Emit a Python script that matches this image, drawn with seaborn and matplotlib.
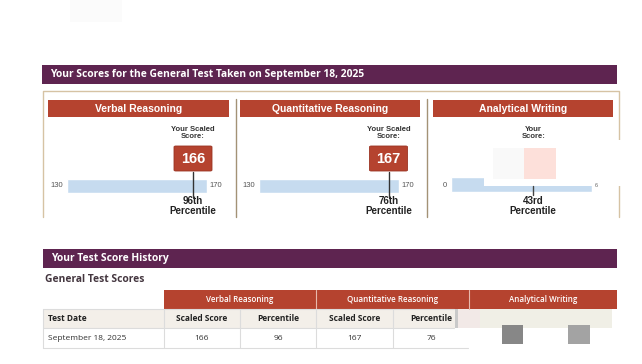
import numpy as np
import pandas as pd
import matplotlib
matplotlib.use("Agg")
import matplotlib.pyplot as plt
from matplotlib.patches import Rectangle, FancyBboxPatch
import seaborn as sns

# --- data ---
sections = ["Verbal Reasoning", "Quantitative Reasoning", "Analytical Writing"]
scale_lo = [130, 130, 0]
scale_hi = [170, 170, 6]
scores = [166, 167, 3.5]          # writing score is hidden in the report
score_text = ["166", "167", None]
percentiles = ["96th", "76th", "43rd"]
score_captions = ["Your Scaled\nScore:", "Your Scaled\nScore:", "Your\nScore:"]
test_date = "September 18, 2025"
table_groups = ["Verbal Reasoning", "Quantitative Reasoning", "Analytical Writing"]
table_cols = ["Scaled Score", "Percentile", "Scaled Score", "Percentile"]
table_vals = ["166", "96", "167", "76"]

PURPLE = "#5e2450"
RED = "#b5432f"
BLUE = "#c6dbef"
TAN = "#d6c3a4"
SEP = "#a39276"
W, H = 642, 364

sns.set_theme(style="white")
plt.rcParams["font.family"] = ["Liberation Sans", "DejaVu Sans"]

fig = plt.figure(figsize=(W / 100, H / 100), dpi=100)
base = fig.add_axes([0, 0, 1, 1])
base.set_xlim(0, W)
base.set_ylim(H, 0)
base.axis("off")


def rect(x0, y0, x1, y1, color, **kw):
    base.add_patch(Rectangle((x0, y0), x1 - x0, y1 - y0, facecolor=color,
                             edgecolor=kw.pop("ec", "none"), lw=kw.pop("lw", 0), **kw))


# faint box at the very top
rect(70, 0, 122, 22, "#fbfbfb")

# ---- score section ----
rect(42, 65, 617, 84, PURPLE)
base.text(50, 75, "Your Scores for the General Test Taken on September 18, 2025",
          color="white", fontsize=7.4, fontweight="bold", va="center",
          family=["Open Sans", "DejaVu Sans"])
base.plot([43, 43, 619, 619], [217, 91, 91, 217], color=TAN, lw=1)
for xs in [236, 427]:
    base.plot([xs, xs], [99, 217], color=SEP, lw=1)

panel_x = [(48, 229), (240, 420), (433, 613)]
bar_x = [(67, 207), (259, 399), (451, 592)]
for i, name in enumerate(sections):
    x0, x1 = panel_x[i]
    rect(x0, 100, x1, 117, RED)
    base.text((x0 + x1) / 2, 108.5, name, color="white", fontsize=7.5,
              fontweight="bold", ha="center", va="center")

for i in range(3):
    bx0, bx1 = bar_x[i]
    lo, hi = scale_lo[i], scale_hi[i]
    ax = fig.add_axes([bx0 / W, 1 - 216 / H, (bx1 - bx0) / W, (216 - 120) / H])
    bar_top = 177 if i == 2 else 179
    bar_bot = 192 if i == 2 else 193
    sns.barplot(x=[hi - lo], y=[(bar_top + bar_bot) / 2], orient="h", native_scale=True,
                left=lo, width=bar_bot - bar_top, color=BLUE, saturation=1, ax=ax)
    ax.set_xlim(lo, hi)
    ax.set_ylim(216, 120)
    ax.axis("off")
    ppu = (bx1 - bx0) / (hi - lo)   # pixels per score point
    s = scores[i]
    ax.annotate(str(lo), xy=(lo, 186), xytext=(-3, 0), textcoords="offset points",
                ha="right", va="center", fontsize=5.5, color="#555555", annotation_clip=False)
    if i == 2:
        # redacted area over the writing panel
        ax.add_patch(Rectangle((lo + 33 / ppu, 140), (hi - lo), 186 - 140, facecolor="white",
                               edgecolor="none", clip_on=False, zorder=3))
        ax.add_patch(Rectangle((s - 40 / ppu, 148), 31 / ppu, 31, facecolor="#f9f9f9",
                               edgecolor="none", clip_on=False, zorder=4))
        ax.add_patch(Rectangle((s - 9 / ppu, 148), 32 / ppu, 31, facecolor="#fde0da",
                               edgecolor="none", clip_on=False, zorder=4))
        ax.annotate("6", xy=(hi, 186), xytext=(2, 0), textcoords="offset points",
                    ha="left", va="center", fontsize=4, color="#666666", annotation_clip=False)
        ax.plot([s, s], [186, 195], color="#444444", lw=1, clip_on=False, zorder=5)
    else:
        ax.annotate(str(hi), xy=(hi, 186), xytext=(1.5, 0), textcoords="offset points",
                    ha="left", va="center", fontsize=5.5, color="#555555", annotation_clip=False)
        ax.plot([s, s], [172, 197], color="#333333", lw=1, clip_on=False, zorder=5)
        ax.add_patch(FancyBboxPatch((s - 19 / ppu, 146), 38 / ppu, 25,
                                    boxstyle="round,pad=0,rounding_size=0.5",
                                    mutation_aspect=2,
                                    facecolor=RED, edgecolor="#9a3322", lw=0.6,
                                    clip_on=False, zorder=6))
        ax.text(s, 159, score_text[i], color="white", fontsize=10.5, fontweight="bold",
                ha="center", va="center", zorder=7)
    ax.text(s, 133, score_captions[i], fontsize=5.5, fontweight="bold", color="#333333",
            ha="center", va="center", linespacing=1.0, zorder=7)
    ax.text(s, 206, percentiles[i] + "\nPercentile", fontsize=7, fontweight="bold",
            color="#222222", ha="center", va="center", linespacing=0.95, zorder=7)

# white gap on the right border
rect(605, 140, 626, 187, "white")

# ---- score history table ----
TF = ["Open Sans", "DejaVu Sans"]
rect(43, 249, 617, 268, PURPLE)
base.text(51, 258.5, "Your Test Score History", color="white", fontsize=7.4,
          fontweight="bold", va="center", family=TF)
base.text(45, 280, "General Test Scores", color="#44363f", fontsize=7.4,
          fontweight="bold", va="center", family=TF)

group_x = [(164, 316), (316, 469), (469, 617)]
for (x0, x1), g in zip(group_x, table_groups):
    rect(x0, 290, x1, 309, RED)
    base.text((x0 + x1) / 2, 299.5, g, color="white", fontsize=5.8, ha="center",
              va="center", family=TF, fontweight="semibold")
for xs in [316, 469]:
    base.plot([xs, xs], [290, 309], color="#e8b9ad", lw=0.8)

col_x = [(164, 240), (240, 316), (316, 393), (393, 469)]
rect(43, 309, 455, 328, "#f3efe9")
rect(455, 309, 458, 328, "#c9c9c9")
rect(458, 309, 480, 328, "#f2e9e7")
rect(480, 309, 612, 328, "#f0efe6")
base.text(48, 318.5, "Test Date", fontsize=6, fontweight="bold", color="#222222",
          va="center", family=TF)
base.text(48, 338, test_date, fontsize=6, color="#333333", va="center", family=TF)
for (x0, x1), c, v in zip(col_x, table_cols, table_vals):
    base.text((x0 + x1) / 2, 318.5, c, fontsize=6, fontweight="bold", color="#222222",
              ha="center", va="center", family=TF)
    base.text((x0 + x1) / 2, 338, v, fontsize=6, color="#333333",
              ha="center", va="center", family=TF)

grid = "#dcdcdc"
base.plot([43, 454], [309, 309], color=grid, lw=0.8)
base.plot([43, 454], [328, 328], color=grid, lw=0.8)
base.plot([43, 468], [348, 348], color=grid, lw=0.8)
for xs in [43, 164, 240, 316, 393]:
    base.plot([xs, xs], [309, 348], color=grid, lw=0.8)

rect(502, 325, 523, 344, "#878787")
rect(568, 325, 590, 344, "#a3a3a3")

fig.savefig("out.png", dpi=100)
